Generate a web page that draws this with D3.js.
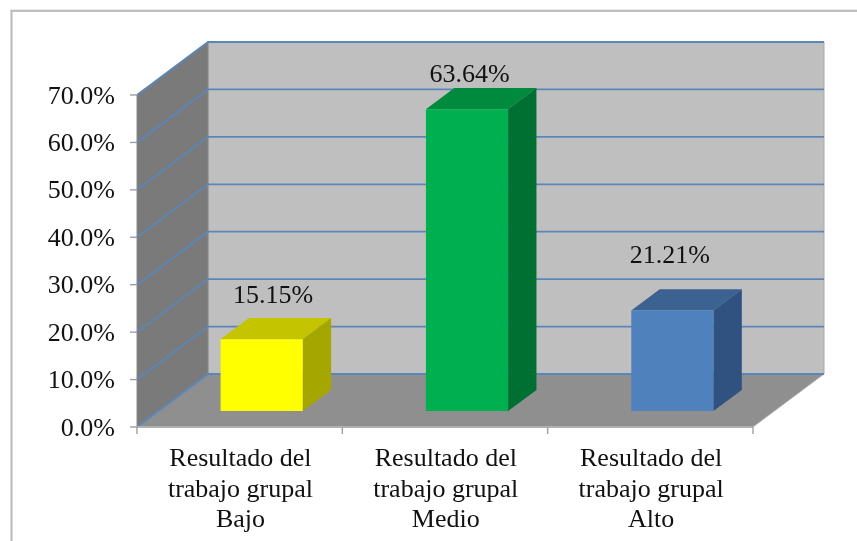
<!DOCTYPE html>
<html>
<head>
<meta charset="utf-8">
<script src="https://cdn.jsdelivr.net/npm/d3@7"></script>
<style>
    html, body { margin: 0; padding: 0; background: #fff; overflow: hidden; }
    svg { display: block; filter: blur(0.55px); }
    text { font-family: "Liberation Serif", serif; fill: #111; }
</style>
</head>
<body>
<script>
// datos
const categories = ['Bajo', 'Medio', 'Alto'];
const values = [15.15, 63.64, 21.21];
const category_prefix = ['Resultado del', 'trabajo grupal'];
const y_ticks = [0, 10, 20, 30, 40, 50, 60, 70];
const front_colors = ['#ffff00', '#00b050', '#4f81bd'];
const top_colors = ['#c4c400', '#008a3e', '#3c6291'];
const side_colors = ['#a6a600', '#006f32', '#2f5280'];

const width = 857;
const height = 541;

// profundidad de la perspectiva 3D
const depth_x = 71;
const depth_y = 53;
const bar_depth = [0.3, 0.7];
// ajuste de cada etiqueta respecto a su barra
const label_gap = [36, 27, 48];
const label_dx = [0, -9, -14];

const band = d3.scaleBand().domain(categories).range([137, 753]);
const y = d3.scaleLinear().domain([0, 70]).range([427, 95]);

// lleva un punto (x, y, z) del grafico a la pantalla
function project(px, py, z) {
    return [px + depth_x * z, py - depth_y * z];
}
function poly(points) {
    return points.map(p => p.join(',')).join(' ');
}

const svg = d3.select('body')
    .append('svg')
    .attr('width', width)
    .attr('height', height);

// marco: solo se ven los lados izquierdo y superior
svg.append('rect')
    .attr('x', 11.5)
    .attr('y', 10.8)
    .attr('width', 900)
    .attr('height', 600)
    .attr('fill', '#fff')
    .attr('stroke', '#bcbcbc')
    .attr('stroke-width', 2.2);

const [x0, x1] = band.range();
const [y0, y1] = y.range();

// pared del fondo
svg.append('polygon')
    .attr('points', poly([project(x0, y1, 1), project(x1, y1, 1), project(x1, y0, 1), project(x0, y0, 1)]))
    .attr('fill', '#bfbfbf')
    .attr('stroke', '#a8a8a8');
// pared lateral
svg.append('polygon')
    .attr('points', poly([project(x0, y1, 0), project(x0, y1, 1), project(x0, y0, 1), project(x0, y0, 0)]))
    .attr('fill', '#7a7a7a')
    .attr('stroke', '#8a8a8a');
// piso
svg.append('polygon')
    .attr('points', poly([project(x0, y0, 0), project(x0, y0, 1), project(x1, y0, 1), project(x1, y0, 0)]))
    .attr('fill', '#8f8f8f')
    .attr('stroke', '#b5b5b5');

// lineas de division
svg.append('g')
    .selectAll('polyline')
    .data(y_ticks)
    .enter()
    .append('polyline')
    .attr('points', d => poly([project(x0, y(d), 0), project(x0, y(d), 1), project(x1, y(d), 1)]))
    .attr('fill', 'none')
    .attr('stroke', '#5b86bb')
    .attr('stroke-width', 1.8);

// ejes
svg.append('line')
    .attr('x1', x0).attr('x2', x1)
    .attr('y1', y0).attr('y2', y0)
    .attr('stroke', '#b0b0b0').attr('stroke-width', 1.8);
svg.append('g')
    .selectAll('line')
    .data(y_ticks)
    .enter()
    .append('line')
    .attr('x1', x0 - 7).attr('x2', x0)
    .attr('y1', d => y(d)).attr('y2', d => y(d))
    .attr('stroke', '#a0a0a0').attr('stroke-width', 1.4);
svg.append('g')
    .selectAll('line')
    .data([x0, x0 + band.step(), x0 + band.step() * 2, x1])
    .enter()
    .append('line')
    .attr('x1', d => d).attr('x2', d => d)
    .attr('y1', y0).attr('y2', y0 + 7)
    .attr('stroke', '#a0a0a0').attr('stroke-width', 1.4);

svg.append('g')
    .selectAll('text')
    .data(y_ticks)
    .enter()
    .append('text')
    .attr('x', 115)
    .attr('y', d => y(d) + 8.5)
    .attr('text-anchor', 'end')
    .attr('font-size', 26)
    .text(d => d.toFixed(1) + '%');

// barras
const bar_w = band.step() * 0.4;
const bars = svg.append('g')
    .selectAll('g')
    .data(categories)
    .enter()
    .append('g');
const bar_left = c => band(c) + band.step() * 0.3 + 0.7;
const val = c => values[categories.indexOf(c)];
const idx = c => categories.indexOf(c);
bars.append('polygon')
    .attr('points', c => poly([
        project(bar_left(c), y(val(c)), bar_depth[0]),
        project(bar_left(c), y(val(c)), bar_depth[1]),
        project(bar_left(c) + bar_w, y(val(c)), bar_depth[1]),
        project(bar_left(c) + bar_w, y(val(c)), bar_depth[0])
    ]))
    .attr('fill', c => top_colors[idx(c)]);
bars.append('polygon')
    .attr('points', c => poly([
        project(bar_left(c) + bar_w, y(val(c)), bar_depth[0]),
        project(bar_left(c) + bar_w, y(val(c)), bar_depth[1]),
        project(bar_left(c) + bar_w, y(0), bar_depth[1]),
        project(bar_left(c) + bar_w, y(0), bar_depth[0])
    ]))
    .attr('fill', c => side_colors[idx(c)]);
bars.append('polygon')
    .attr('points', c => poly([
        project(bar_left(c), y(val(c)), bar_depth[0]),
        project(bar_left(c) + bar_w, y(val(c)), bar_depth[0]),
        project(bar_left(c) + bar_w, y(0), bar_depth[0]),
        project(bar_left(c), y(0), bar_depth[0])
    ]))
    .attr('fill', c => front_colors[idx(c)]);

// etiquetas de valor
bars.append('text')
    .attr('x', c => project(bar_left(c) + bar_w / 2, 0, 0.5)[0] - 2.7 + label_dx[idx(c)])
    .attr('y', c => project(0, y(val(c)), bar_depth[0])[1] - label_gap[idx(c)])
    .attr('text-anchor', 'middle')
    .attr('font-size', 26)
    .text(c => val(c).toFixed(2) + '%');

// etiquetas de categoria
const cat_text = svg.append('g')
    .selectAll('text')
    .data(categories)
    .enter()
    .append('text')
    .attr('x', c => band(c) + band.step() / 2 + 0.8)
    .attr('y', 466)
    .attr('text-anchor', 'middle')
    .attr('font-size', 26);
cat_text.selectAll('tspan')
    .data(c => category_prefix.concat([c]))
    .enter()
    .append('tspan')
    .attr('x', function() { return d3.select(this.parentNode).attr('x'); })
    .attr('dy', (d, i) => i === 0 ? 0 : 30.5)
    .text(d => d);
</script>
</body>
</html>
